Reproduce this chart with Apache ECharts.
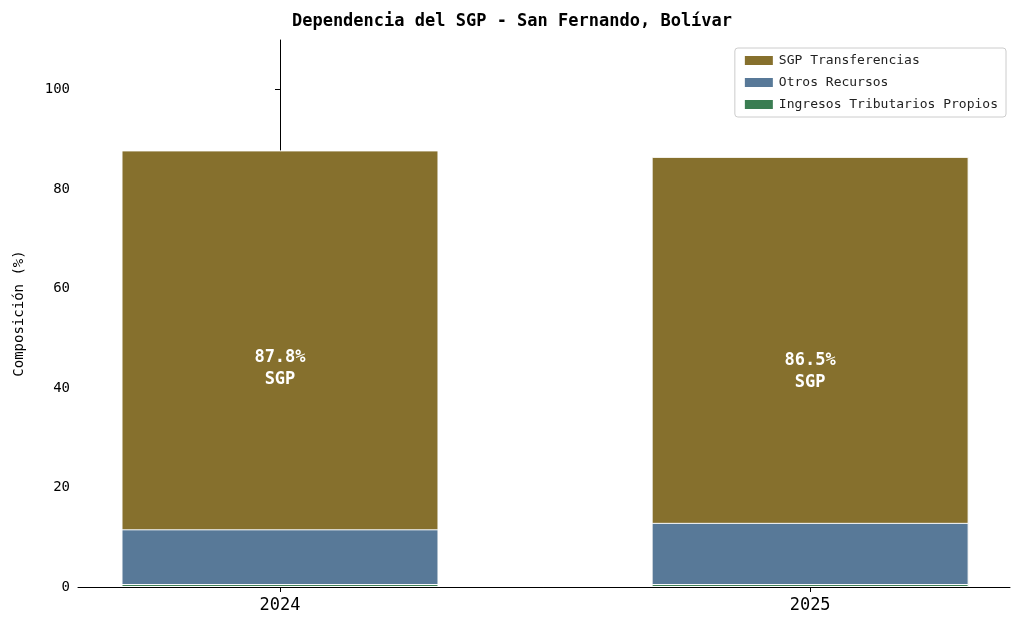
<!DOCTYPE html>
<html><head><meta charset="utf-8">
<script src="https://cdn.jsdelivr.net/npm/echarts@6/dist/echarts.min.js"></script>
<style>html,body{margin:0;background:#fff}#c{width:1024px;height:634px}</style>
</head><body><div id="c"></div>
<script>
var years = ["2024", "2025"];
var sgp = [87.8, 86.5];
var otros = [11.6, 12.9];
var propios = [0.6, 0.6];
var font = "DejaVu Sans Mono";

var chart = echarts.init(document.getElementById("c"));
function pts(arr) { return arr.map(function (v, i) { return [i, v]; }); }
function seg(name, data, color, labels) {
    return {
        name: name, type: "bar", stack: "t", data: pts(data), barWidth: 317,
        itemStyle: { color: color, borderColor: "#fff", borderWidth: 1 },
        label: labels ? {
            show: true, position: "inside", color: "#fff", fontFamily: font,
            fontSize: 17, fontWeight: "bold", lineHeight: 22,
            formatter: function (p) { return p.value[1].toFixed(1) + "%\nSGP"; }
        } : { show: false }
    };
}
chart.setOption({
    animation: false,
    title: { text: "Dependencia del SGP - San Fernando, Bolívar", left: "center", top: 8,
        textStyle: { fontFamily: font, fontSize: 17, fontWeight: "bold", color: "#000" } },
    legend: {
        right: 18, top: 48, orient: "vertical", icon: "rect", itemWidth: 30, itemHeight: 11, itemGap: 9,
        backgroundColor: "rgba(255,255,255,0.8)", borderColor: "#ccc", borderWidth: 1, borderRadius: 3,
        padding: [6, 8], textStyle: { fontFamily: font, fontSize: 13, color: "#222" },
        data: ["SGP Transferencias", "Otros Recursos", "Ingresos Tributarios Propios"]
    },
    grid: { left: 78, right: 14, top: 40, bottom: 47 },
    xAxis: { type: "value", min: -0.381, max: 1.377, splitLine: { show: false },
        axisLine: { lineStyle: { color: "#000" } },
        axisTick: { show: true, customValues: [0, 1], lineStyle: { color: "#000" } },
        axisLabel: { customValues: [0, 1], fontFamily: font, fontSize: 17, color: "#000", margin: 10,
            formatter: function (v) { return years[Math.round(v)]; } } },
    yAxis: { type: "value", min: 0, max: 110, interval: 20, name: "Composición (%)",
        nameLocation: "middle", nameGap: 52, nameTextStyle: { fontFamily: font, fontSize: 14, color: "#000" },
        axisLine: { show: true, lineStyle: { color: "#000" } },
        axisTick: { show: true, customValues: [0, 20, 40, 60, 80, 100] },
        splitLine: { show: false },
        axisLabel: { customValues: [0, 20, 40, 60, 80, 100], fontFamily: font, fontSize: 14, color: "#000" } },
    series: [
        seg("SGP Transferencias", sgp, "#86702d", true),
        seg("Otros Recursos", otros, "#587998", false),
        seg("Ingresos Tributarios Propios", propios, "#3a7d52", false)
    ]
});
</script></body></html>
